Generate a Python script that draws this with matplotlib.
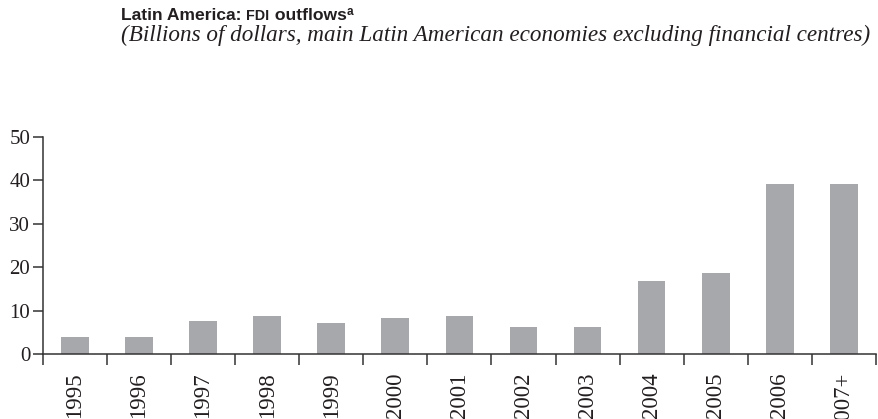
import matplotlib.pyplot as plt
import numpy as np

# data (billions of dollars)
years = ["1995", "1996", "1997", "1998", "1999", "2000", "2001",
         "2002", "2003", "2004", "2005", "2006", "2007+"]
outflows = [4.0, 4.0, 7.7, 8.7, 7.3, 8.3, 8.7, 6.3, 6.3, 16.8, 18.7, 39.1, 39.1]
yticks = [0, 10, 20, 30, 40, 50]

BAR = "#a7a8ac"
LINE = "#333333"
TXT = "#231f20"
serif = ["Liberation Serif", "DejaVu Serif"]
sans = ["Liberation Sans", "DejaVu Sans"]

fig = plt.figure(figsize=(8.79, 4.19), dpi=100)
ax = fig.add_axes([0.0486, 0.1544, 0.948, 0.5193])

x = np.arange(len(years))
ax.bar(x, outflows, width=0.43, color=BAR, zorder=2)

ax.set_xlim(-0.5, len(years) - 0.5)
ax.set_ylim(0, 50)
ax.set_yticks(yticks)
ax.set_yticklabels([str(v) for v in yticks], family=serif, fontsize=15, color=TXT)

# category labels in the middle, tick marks on the boundaries
ax.set_xticks(np.arange(-0.5, len(years), 1.0))
ax.set_xticklabels([])
ax.set_xticks(x, minor=True)
ax.set_xticklabels(years, minor=True, rotation=90, family=serif,
                   fontsize=16.5, color=TXT)
ax.tick_params(axis="x", which="major", length=8, width=1.1, color=LINE)
ax.tick_params(axis="x", which="minor", length=0, pad=13)
ax.tick_params(axis="y", length=7, width=1.1, color=LINE, pad=2)

for s in ["top", "right"]:
    ax.spines[s].set_visible(False)
for s in ["left", "bottom"]:
    ax.spines[s].set_color(LINE)
    ax.spines[s].set_linewidth(1.1)

# title: built from pieces (bold, small caps "FDI", superscript a)
fig.canvas.draw()
r = fig.canvas.get_renderer()
x0 = 121 / 879
yb = 1 - 20 / 419
pieces = [("Latin America: ", 12.6, 0), ("FDI", 10.3, 0), (" outflows", 12.6, 0), ("a", 8.5, 5 / 419)]
for txt, fs, dy in pieces:
    t = fig.text(x0, yb + dy, txt, family=sans, weight="bold", fontsize=fs,
                 color=TXT, va="baseline", ha="left")
    bb = t.get_window_extent(renderer=r)
    x0 = bb.x1 / fig.bbox.width

fig.text(121 / 879, 1 - 41 / 419,
         "(Billions of dollars, main Latin American economies excluding financial centres)",
         family=serif, style="italic", fontsize=16.7, color=TXT, va="baseline", ha="left")

fig.savefig("out.png", dpi=100)
